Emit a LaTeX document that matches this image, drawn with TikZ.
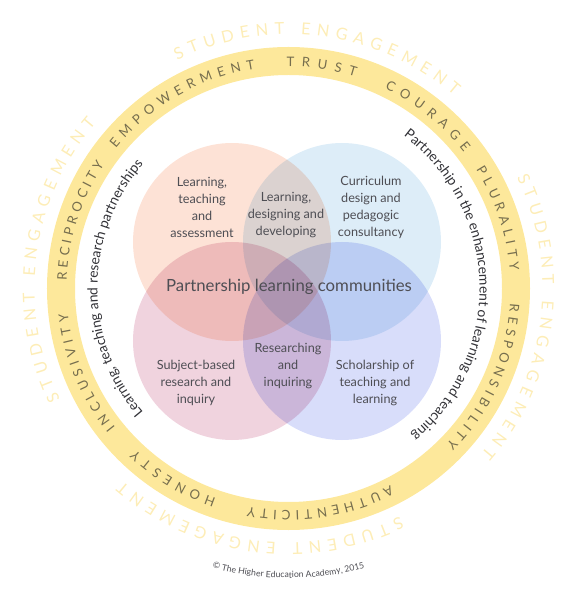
\documentclass[tikz,border=0pt]{standalone}
\usepackage{fontspec}
\setmainfont{Lato}
\usepackage{tikz}
\usetikzlibrary{decorations.text}
\usepackage{xcolor}

\definecolor{ringyellow}{RGB}{253,232,155}
\definecolor{ringtext}{RGB}{118,110,78}
\definecolor{outertext}{RGB}{253,237,183}
\definecolor{arctext}{RGB}{50,50,55}
\definecolor{labelgrey}{RGB}{78,78,84}
\definecolor{peach}{RGB}{253,226,214}
\definecolor{skyblue}{RGB}{221,237,248}
\definecolor{rosepink}{RGB}{240,211,222}
\definecolor{lavender}{RGB}{216,221,250}

\newcommand{\ringfont}{\fontsize{11.2}{14}\selectfont\color{ringtext}}
\newcommand{\outerfont}{\fontsize{14}{16}\selectfont\color{outertext}}
\newcommand{\arcfont}{\fontsize{11.8}{14}\selectfont\color{arctext}}
\newcommand{\notefont}{\fontsize{7.4}{9}\selectfont\color{labelgrey}}

\begin{document}
\begin{tikzpicture}[
  x=0.03cm, y=0.03cm,
  venntext/.style={align=center, text=labelgrey, font=\fontsize{10.8}{14.5}\selectfont},
  centretext/.style={text=labelgrey, font=\fontsize{14.3}{16}\selectfont},
  ringword/.style={decorate, decoration={text along path, text align={fit to path}, text={|\ringfont|#1}}},
  outerword/.style={decorate, decoration={text along path, text align={fit to path}, text={|\outerfont|#1}}},
  arcword/.style={decorate, decoration={text along path, text align=center, text={|\arcfont|#1}}},
  noteword/.style={decorate, decoration={text along path, text align=center, text={|\notefont|#1}}}
]
\useasboundingbox (-288.5,-305.5) rectangle (294.5,288.5);

% Ring
\coordinate (hub) at (0,0);
\fill[ringyellow, even odd rule] (hub) circle[radius=241.5] circle[radius=213.5];

% Circles
\coordinate (tl) at (-56.5,46.5);
\coordinate (tr) at (53.5,46.5);
\coordinate (bl) at (-56.5,-52.5);
\coordinate (br) at (53.5,-52.5);
\begin{scope}[blend group=multiply]
\fill[peach] (tl) circle[radius=99];
\fill[skyblue] (tr) circle[radius=99];
\fill[rosepink] (bl) circle[radius=99];
\fill[lavender] (br) circle[radius=99];
\end{scope}

% Nodes
\node[venntext] (lta) at (-86.5,81.5) {Learning,\\teaching\\and\\assessment};
\node[venntext] (ldd) at (-2.5,73.5) {Learning,\\designing and\\developing};
\node[venntext] (cdp) at (82.5,81.5) {Curriculum\\design and\\pedagogic\\consultancy};
\node[centretext] (plc) at (0.5,2) {Partnership learning communities};
\node[venntext] (sbr) at (-92.5,-94.5) {Subject-based\\research and\\inquiry};
\node[venntext] (rai) at (-0.5,-77.5) {Researching\\and\\inquiring};
\node[venntext] (stl) at (86.5,-94.5) {Scholarship of\\teaching and\\learning};

% Ring words
\path[ringword={EMPOWERMENT}] (141:222) arc[start angle=141, end angle=98.7, radius=222];
\path[ringword={TRUST}] (90.5:222) arc[start angle=90.5, end angle=72.5, radius=222];
\path[ringword={COURAGE}] (64.3:222) arc[start angle=64.3, end angle=37.8, radius=222];
\path[ringword={PLURALITY}] (32.3:222) arc[start angle=32.3, end angle=4.5, radius=222];
\path[ringword={RESPONSIBILITY}] (-4:222) arc[start angle=-4, end angle=-44.7, radius=222];
\path[ringword={AUTHENTICITY}] (-62.7:222) arc[start angle=-62.7, end angle=-100.5, radius=222];
\path[ringword={HONESTY}] (-109:222) arc[start angle=-109, end angle=-133.5, radius=222];
\path[ringword={INCLUSIVITY}] (218.8:222) arc[start angle=218.8, end angle=186.5, radius=222];
\path[ringword={RECIPROCITY}] (178:222) arc[start angle=178, end angle=146, radius=222];

% Student engagement, four times round
\foreach \a in {0,90,180,270}
  \path[outerword={STUDENT ENGAGEMENT}] (116-\a:254) arc[start angle=116-\a, end angle=49.3-\a, radius=254];

% Partnership arcs
\path[arcword={Learning, teaching and research partnerships}] (228:191) arc[start angle=228, end angle=132, radius=191];
\path[arcword={Partnership in the enhancement of learning and teaching}] (61:191) arc[start angle=61, end angle=-58, radius=191];

% Copyright
\path[noteword={© The Higher Education Academy, 2015}] (-110:289.5) arc[start angle=-110, end angle=-70, radius=289.5];

\end{tikzpicture}
\end{document}
